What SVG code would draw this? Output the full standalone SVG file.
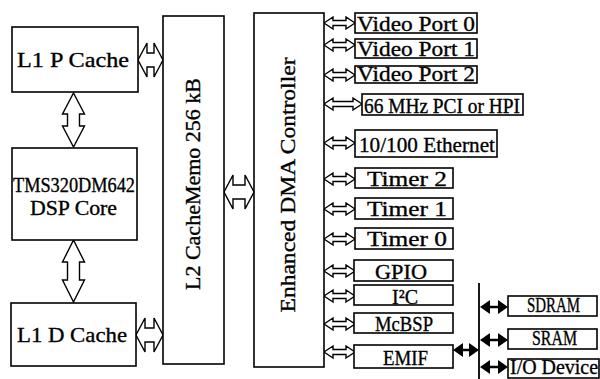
<svg xmlns="http://www.w3.org/2000/svg" xmlns:xlink="http://www.w3.org/1999/xlink" width="600" height="379" viewBox="0 0 600 379">
<style>
.box{fill:#fff;stroke:#000;stroke-width:1.6}
.ha{fill:#fff;stroke:#000;stroke-width:1.4;stroke-linejoin:miter}
.ba{fill:#000;stroke:none}
.bl{stroke:#000;stroke-width:2.5}
.bus{stroke:#000;stroke-width:1.8}
text{font-family:"Liberation Serif","DejaVu Serif",serif;fill:#000;stroke:#000;stroke-width:0.35;font-size:22px}
</style>
<defs>
<polygon id="sa" class="ha" points="324,0 333,-6 333,-2.5 346,-2.5 346,-6 355,0 346,6 346,2.5 333,2.5 333,6"/>
</defs>
<rect width="600" height="379" fill="#fff"/>

<g id="connectors">
<polygon class="ha" points="138,60 147,43 147,53 154,53 154,43 163,60 154,77 154,67 147,67 147,77"/>
<polygon class="ha" points="136,335 145,318 145,328 154,328 154,318 163,335 154,352 154,342 145,342 145,352"/>
<polygon class="ha" points="224,192 233,175 233,185 245,185 245,175 254,192 245,209 245,199 233,199 233,209"/>
<polygon class="ha" points="73.5,93 84.5,114 79.5,114 79.5,126 84.5,126 73.5,147 62.5,126 67.5,126 67.5,114 62.5,114"/>
<polygon class="ha" points="73.5,240 84.5,262 79.5,262 79.5,280 84.5,280 73.5,302 62.5,280 67.5,280 67.5,262 62.5,262"/>
<use xlink:href="#sa" y="23"/>
<use xlink:href="#sa" y="45"/>
<use xlink:href="#sa" y="75"/>
<polygon class="ha" points="324,104 333,98 333,101.5 353,101.5 353,98 362,104 353,110 353,106.5 333,106.5 333,110"/>
<use xlink:href="#sa" y="143"/>
<use xlink:href="#sa" y="179"/>
<use xlink:href="#sa" y="209"/>
<use xlink:href="#sa" y="239"/>
<use xlink:href="#sa" y="271"/>
<use xlink:href="#sa" y="296"/>
<use xlink:href="#sa" y="324"/>
<use xlink:href="#sa" y="352"/>
<line class="bus" x1="479" y1="283" x2="479" y2="379"/>
<line class="bl" x1="460" y1="350" x2="472" y2="350"/>
<polygon class="ba" points="453,350 463,343 463,357"/>
<polygon class="ba" points="479,350 469,343 469,357"/>
<line class="bl" x1="486" y1="307" x2="501" y2="307"/>
<polygon class="ba" points="480,307 490,300 490,314"/>
<polygon class="ba" points="508,307 498,300 498,314"/>
<line class="bl" x1="486" y1="340" x2="501" y2="340"/>
<polygon class="ba" points="480,340 490,333 490,347"/>
<polygon class="ba" points="508,340 498,333 498,347"/>
<line class="bl" x1="486" y1="367" x2="501" y2="367"/>
<polygon class="ba" points="480,367 490,360 490,374"/>
<polygon class="ba" points="508,367 498,360 498,374"/>
</g>

<g id="l1p"><rect class="box" x="12" y="27" width="126" height="65"/><text x="17" y="67" textLength="112" lengthAdjust="spacingAndGlyphs">L1 P Cache</text></g>
<g id="core"><rect class="box" x="12" y="148" width="125" height="92"/><text x="13" y="192" textLength="122" lengthAdjust="spacingAndGlyphs">TMS320DM642</text><text x="30" y="215" textLength="87" lengthAdjust="spacingAndGlyphs">DSP Core</text></g>
<g id="l1d"><rect class="box" x="11" y="303" width="125" height="63"/><text x="17" y="342" textLength="110" lengthAdjust="spacingAndGlyphs">L1 D Cache</text></g>
<g id="l2"><rect class="box" x="163" y="16" width="61" height="348"/><text transform="translate(200,184) rotate(-90)" text-anchor="middle" textLength="212" lengthAdjust="spacingAndGlyphs">L2 CacheMemo 256 kB</text></g>
<g id="dma"><rect class="box" x="254" y="13" width="70" height="354"/><text transform="translate(295,185) rotate(-90)" text-anchor="middle" textLength="255" lengthAdjust="spacingAndGlyphs">Enhanced DMA Controller</text></g>

<g id="vp0"><rect class="box" x="355" y="13" width="122" height="20"/><text x="357" y="31" textLength="118" lengthAdjust="spacingAndGlyphs">Video Port 0</text></g>
<g id="vp1"><rect class="box" x="355" y="39" width="122" height="19"/><text x="357" y="56" textLength="118" lengthAdjust="spacingAndGlyphs">Video Port 1</text></g>
<g id="vp2"><rect class="box" x="355" y="66" width="122" height="17"/><text x="357" y="81" font-size="20" textLength="118" lengthAdjust="spacingAndGlyphs">Video Port 2</text></g>
<g id="pci"><rect class="box" x="362" y="94" width="161" height="21"/><text x="364" y="113" textLength="156" lengthAdjust="spacingAndGlyphs">66 MHz PCI or HPI</text></g>
<g id="eth"><rect class="box" x="355" y="130" width="142" height="27"/><text x="359" y="152" font-size="23" textLength="136" lengthAdjust="spacingAndGlyphs">10/100 Ethernet</text></g>
<g id="t2"><rect class="box" x="355" y="168" width="98" height="20"/><text x="367" y="186" textLength="80" lengthAdjust="spacingAndGlyphs">Timer 2</text></g>
<g id="t1"><rect class="box" x="355" y="198" width="98" height="21"/><text x="367" y="216" textLength="80" lengthAdjust="spacingAndGlyphs">Timer 1</text></g>
<g id="t0"><rect class="box" x="355" y="228" width="98" height="21"/><text x="367" y="246" textLength="80" lengthAdjust="spacingAndGlyphs">Timer 0</text></g>
<g id="gpio"><rect class="box" x="354" y="260" width="99" height="21"/><text x="375" y="279" textLength="52" lengthAdjust="spacingAndGlyphs">GPIO</text></g>
<g id="i2c"><rect class="box" x="354" y="285" width="99" height="20"/><text x="392" y="304" textLength="26" lengthAdjust="spacingAndGlyphs">I²C</text></g>
<g id="mcbsp"><rect class="box" x="354" y="313" width="99" height="20"/><text x="375" y="331" textLength="58" lengthAdjust="spacingAndGlyphs">McBSP</text></g>
<g id="emif"><rect class="box" x="354" y="345" width="99" height="23"/><text x="383" y="365" textLength="45" lengthAdjust="spacingAndGlyphs">EMIF</text></g>
<g id="sdram"><rect class="box" x="508" y="296" width="89" height="20"/><text x="527" y="312" font-size="16" textLength="53" lengthAdjust="spacingAndGlyphs">SDRAM</text></g>
<g id="sram"><rect class="box" x="508" y="329" width="89" height="20"/><text x="532" y="345" font-size="16" textLength="45" lengthAdjust="spacingAndGlyphs">SRAM</text></g>
<g id="io"><rect class="box" x="508" y="359" width="91" height="19"/><text x="510" y="374" font-size="14" textLength="88" lengthAdjust="spacingAndGlyphs">I/O Device</text></g>
</svg>
